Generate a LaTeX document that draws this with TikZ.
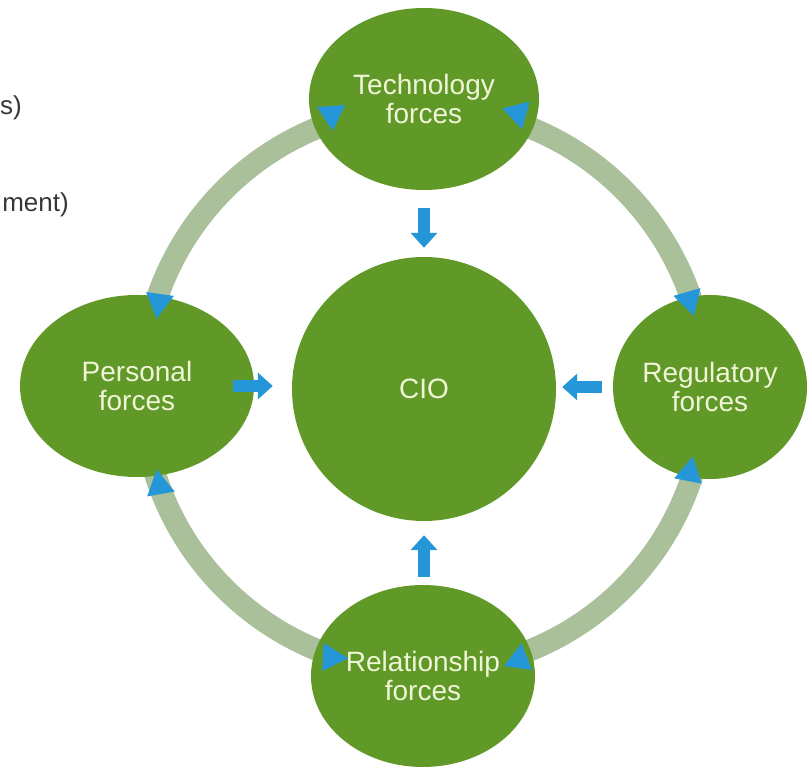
\documentclass[tikz,border=0pt]{standalone}
\usepackage{fontspec}
\setmainfont{Liberation Sans}
\usetikzlibrary{arrows.meta,shapes.geometric}
\definecolor{forcegreen}{RGB}{96,153,40}
\definecolor{ringgreen}{RGB}{170,192,154}
\definecolor{arrowblue}{RGB}{37,150,215}
\definecolor{labeltext}{RGB}{240,245,216}
\definecolor{sidetext}{RGB}{55,55,55}
\tikzset{
  force/.style={ellipse, fill=forcegreen, inner sep=0pt, align=center,
    text=labeltext, font=\fontsize{28}{29}\selectfont},
  ring/.style={draw=ringgreen, line width=22pt},
  blk/.style={draw=arrowblue, line width=12pt,
    -{Triangle[length=15pt, width=26pt]}},
  sidelabel/.style={text=sidetext, inner sep=0pt, font=\fontsize{26}{27}\selectfont},
  tri/.pic={\fill[arrowblue] (0,14) -- (0,-14) -- (25,0) -- cycle;}
}
\begin{document}
\begin{tikzpicture}[x=1pt,y=1pt]
\useasboundingbox (0,0) rectangle (809,768);
% cut-off side texts
\node[sidelabel, anchor=base west] (sidea) at (0,653) {s)};
\node[sidelabel, anchor=base east] (sideb) at (69,556) {ment)};
% ring centre
\coordinate (ringc) at (424,379);
% ring band
\draw[ring] (ringc) ++(168:282) arc[start angle=168, end angle=100, radius=282];
\draw[ring] (ringc) ++(80:282) arc[start angle=80, end angle=12, radius=282];
\draw[ring] (ringc) ++(-12:282) arc[start angle=-12, end angle=-80, radius=282];
\draw[ring] (ringc) ++(-100:282) arc[start angle=-100, end angle=-168, radius=282];
% nodes
\node[force, circle, minimum size=264pt] (cio) at (424,379) {CIO};
\node[force, minimum width=230pt, minimum height=182pt] (tech) at (424,669) {Technology\\forces};
\node[force, minimum width=234pt, minimum height=182pt] (pers) at (137,382) {Personal\\forces};
\node[force, minimum width=194pt, minimum height=184pt] (regu) at (710,381) {Regulatory\\forces};
\node[force, minimum width=224pt, minimum height=182pt] (rela) at (423,92) {Relationship\\forces};
% ring arrowheads
\pic[rotate=-86] at (331,662) {tri};
\pic[rotate=-76] at (516,663) {tri};
\pic[rotate=-98] at (160,474) {tri};
\pic[rotate=100] at (161,274) {tri};
\pic[rotate=-74] at (687,476) {tri};
\pic[rotate=79] at (688,287) {tri};
\pic[rotate=-3] at (323,111) {tri};
\pic[rotate=82] at (518,100) {tri};
% block arrows into CIO
\draw[blk] ([yshift=-18pt]tech.south) -- ([yshift=9pt]cio.north);
\draw[blk] ([xshift=-21pt]pers.east) -- ([xshift=-19pt]cio.west |- pers.east);
\draw[blk] ([xshift=-11pt]regu.west) -- ([xshift=6pt]cio.east |- regu.west);
\draw[blk] ([yshift=8pt]rela.north -| cio.south) -- ([yshift=-14pt]cio.south);
\end{tikzpicture}
\end{document}
